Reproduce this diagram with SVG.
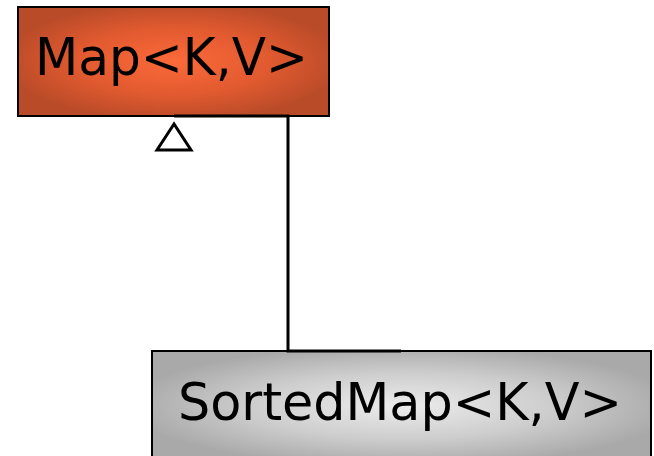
<svg xmlns="http://www.w3.org/2000/svg" width="654" height="456" viewBox="0 0 654 456">
  <defs>
    <radialGradient id="gradOrange" cx="0.5" cy="0.5" r="0.55">
      <stop offset="0" stop-color="#fb6a39"/>
      <stop offset="0.55" stop-color="#e25a30"/>
      <stop offset="1" stop-color="#b94b28"/>
    </radialGradient>
    <radialGradient id="gradGray" cx="0.5" cy="0.5" r="0.55">
      <stop offset="0" stop-color="#ececec"/>
      <stop offset="0.55" stop-color="#cdcdcd"/>
      <stop offset="1" stop-color="#a9a9a9"/>
    </radialGradient>
    <style>
      .box { stroke: #000; stroke-width: 2; }
      .label { font-family: "DejaVu Sans", "Liberation Sans", sans-serif; fill: #000; font-size: 51px; }
      .edge { fill: none; stroke: #000; stroke-width: 3; }
      .head { fill: #fff; stroke: #000; stroke-width: 3; stroke-linejoin: miter; }
    </style>
  </defs>

  <g id="map">
    <rect class="box" x="18" y="7" width="311" height="109" fill="url(#gradOrange)"/>
    <text class="label" x="35" y="75" textLength="273" lengthAdjust="spacingAndGlyphs">Map&lt;K,V&gt;</text>
  </g>

  <g id="sortedmap">
    <rect class="box" x="152" y="351" width="499" height="110" fill="url(#gradGray)"/>
    <text class="label" x="178" y="420" textLength="444" lengthAdjust="spacingAndGlyphs">SortedMap&lt;K,V&gt;</text>
  </g>

  <g id="connectors">
    <path class="edge" d="M174,116 H288 V351 H401"/>
    <polygon class="head" points="174,124 157,150 191,150"/>
  </g>
</svg>
